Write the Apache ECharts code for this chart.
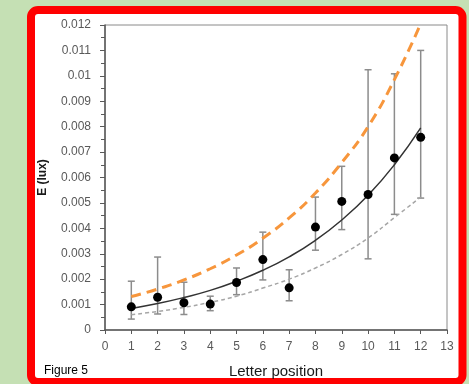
<!DOCTYPE html>
<html>
<head>
<meta charset="utf-8">
<script src="https://cdn.jsdelivr.net/npm/echarts@6/dist/echarts.min.js"></script>
<style>html,body{margin:0;padding:0;background:#c5e0b4;}#c{width:469px;height:384px;}</style>
</head>
<body>
<div id="c"></div>
<script>
const positions = [1,2,3,4,5,6,7,8,9,10,11,12];
const meanE   = [0.00091,0.00129,0.00107,0.00102,0.00187,0.00277,0.00166,0.00405,0.00506,0.00533,0.00677,0.00758];
const errLow  = [0.00043,0.00063,0.00061,0.00076,0.00139,0.00197,0.00115,0.00314,0.00395,0.00280,0.00455,0.00519];
const errHigh = [0.00192,0.00287,0.00188,0.00133,0.00244,0.00385,0.00237,0.00523,0.00644,0.01024,0.01008,0.01100];
const fitMid   = [0.00085,0.00104,0.00128,0.00156,0.00192,0.00235,0.00288,0.00353,0.00433,0.00530,0.00650,0.00795];
const fitUpper = [0.00132,0.00161,0.00197,0.00241,0.00295,0.00361,0.00441,0.00539,0.00659,0.00800,0.00985,0.01205];
const fitLower = [0.00060,0.00073,0.00089,0.00109,0.00133,0.00165,0.00200,0.00244,0.00297,0.00362,0.00442,0.00523];
const yTickLabels = ['0','0.001','0.002','0.003','0.004','0.005','0.006','0.007','0.008','0.009','0.01','0.011','0.012'];

const chart = echarts.init(document.getElementById('c'), null, {renderer:'canvas'});
const pairs = a => positions.map((x,i)=>[x,a[i]]);
const font = '"Liberation Sans", Arial, sans-serif';
chart.setOption({
  backgroundColor:'#c5e0b4',
  animation:false,
  graphic:[
    {type:'rect', z:-10, shape:{x:31, y:10, width:431.5, height:372, r:7},
     style:{fill:'#ffffff', stroke:'#ff0000', lineWidth:8}},
    {type:'text', z:10, left:44, top:365, style:{text:'Figure 5', fill:'#000', font:'12px '+font}}
  ],
  grid:{left:105, right:22, top:25, bottom:53, show:true, borderColor:'#8a8a8a', borderWidth:1, backgroundColor:'transparent'},
  xAxis:{type:'value', min:0, max:13, interval:1,
    name:'Letter position', nameLocation:'middle', nameGap:34,
    nameTextStyle:{color:'#1a1a1a', fontSize:15, fontFamily:font},
    axisLine:{show:true, onZero:false, lineStyle:{color:'#595959', width:1.5}},
    axisTick:{show:true, length:4, lineStyle:{color:'#595959'}},
    axisLabel:{color:'#595959', fontSize:12, margin:11, fontFamily:font},
    splitLine:{show:false}},
  yAxis:{type:'value', min:0, max:0.012, interval:0.001,
    name:'E (lux)', nameLocation:'middle', nameGap:56, nameRotate:90,
    nameTextStyle:{color:'#1a1a1a', fontSize:12, fontWeight:'bold', fontFamily:font},
    axisLine:{show:true, lineStyle:{color:'#595959', width:1.5}},
    axisTick:{show:true, length:5, lineStyle:{color:'#595959'}},
    minorTick:{show:true, splitNumber:2, length:4, lineStyle:{color:'#595959'}},
    axisLabel:{color:'#595959', fontSize:12, margin:14, fontFamily:font,
      formatter:(v)=>yTickLabels[Math.round(v/0.001)]},
    splitLine:{show:false}},
  series:[
    {type:'custom', z:2, data:positions.map((x,i)=>[x,errLow[i],errHigh[i]]),
     encode:{x:0, y:[1,2]},
     renderItem:function(params, api){
       const x=api.value(0), lo=api.value(1), hi=api.value(2);
       const pt=api.coord([x,hi]), pb=api.coord([x,lo]);
       const w=3.5, st={stroke:'#8c8c8c', lineWidth:1.5};
       return {type:'group', children:[
         {type:'line', shape:{x1:pt[0],y1:pt[1],x2:pb[0],y2:pb[1]}, style:st},
         {type:'line', shape:{x1:pt[0]-w,y1:pt[1],x2:pt[0]+w,y2:pt[1]}, style:st},
         {type:'line', shape:{x1:pb[0]-w,y1:pb[1],x2:pb[0]+w,y2:pb[1]}, style:st}
       ]};
     }},
    {type:'line', z:3, data:pairs(fitLower), smooth:true, showSymbol:false, clip:true,
     lineStyle:{color:'#a6a6a6', width:1.5, type:[4,3]}},
    {type:'line', z:3, data:pairs(fitUpper), smooth:true, showSymbol:false, clip:true,
     lineStyle:{color:'#f7963c', width:3, type:[10,6]}},
    {type:'line', z:3, data:pairs(fitMid), smooth:true, showSymbol:false, clip:true,
     lineStyle:{color:'#333333', width:1.5}},
    {type:'scatter', z:4, data:pairs(meanE), symbol:'circle', symbolSize:9,
     itemStyle:{color:'#000000', opacity:1}}
  ]
});
</script>
</body>
</html>
